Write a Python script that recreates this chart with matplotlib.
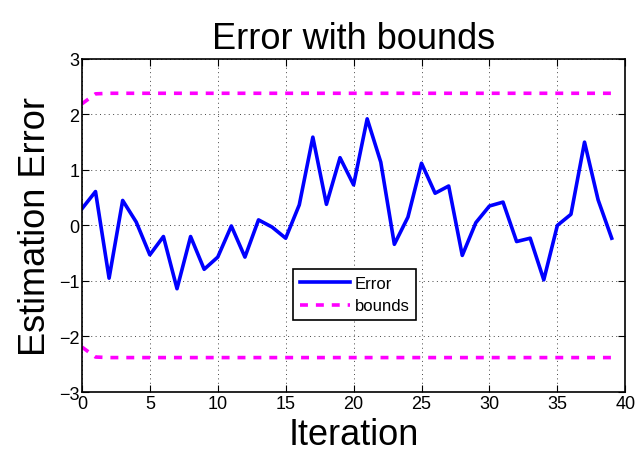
import matplotlib
matplotlib.use('Agg')
import matplotlib.pyplot as plt
import numpy as np

# values
iterations = np.arange(40)
error = [0.30, 0.61, -0.95, 0.45, 0.06, -0.53, -0.20, -1.14, -0.20, -0.79,
         -0.57, -0.01, -0.57, 0.10, -0.03, -0.23, 0.37, 1.59, 0.38, 1.22,
         0.73, 1.92, 1.14, -0.34, 0.15, 1.12, 0.58, 0.71, -0.54, 0.05,
         0.35, 0.42, -0.29, -0.23, -0.98, 0.00, 0.20, 1.50, 0.46, -0.23]
upper_bound = [2.19] + [2.37] + [2.38] * 38
lower_bound = [-b for b in upper_bound]

plt.rcParams['font.family'] = ['Liberation Sans', 'DejaVu Sans']

fig = plt.figure(figsize=(6.4, 4.64), dpi=100)
ax = fig.add_axes([0.128, 0.153, 0.849, 0.718])

ax.plot(iterations, error, color='blue', lw=2.6, label='Error')
ax.plot(iterations, upper_bound, color='magenta', lw=2.6, ls=(0, (2.2, 2.2)), label='bounds')
ax.plot(iterations, lower_bound, color='magenta', lw=2.6, ls=(0, (2.2, 2.2)))

ax.set_xlim(0, 40)
ax.set_ylim(-3, 3)
ax.set_xticks(np.arange(0, 41, 5))
ax.set_yticks(np.arange(-3, 4, 1))
ax.grid(True, ls=(0, (1, 3.5)), color='#444444', lw=0.7)
ax.tick_params(direction='in', top=True, right=True, labelsize=13, length=5, pad=2)
for s in ax.spines.values():
    s.set_linewidth(1.2)

ax.set_title('Error with bounds', fontsize=26, pad=8)
ax.set_xlabel('Iteration', fontsize=26, labelpad=4)
ax.set_ylabel('Estimation Error', fontsize=26, labelpad=4)

leg = ax.legend(loc='lower left', bbox_to_anchor=(0.389, 0.216), borderaxespad=0,
                fontsize=12, fancybox=False, framealpha=1, edgecolor='black',
                handlelength=3.0, handletextpad=0.3, borderpad=0.4, labelspacing=0.45)
leg.get_frame().set_linewidth(1.2)

fig.savefig('out.png', dpi=100)
